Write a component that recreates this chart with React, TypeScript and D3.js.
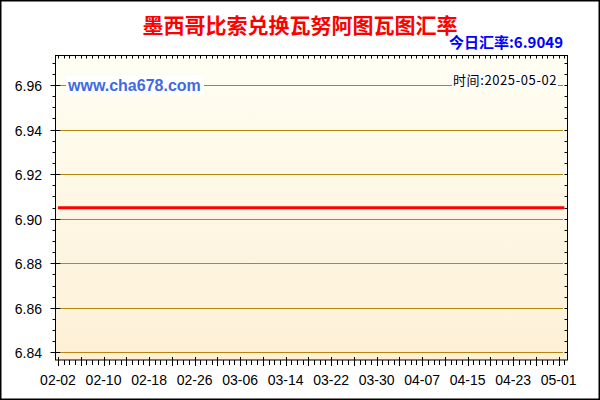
import React from "react";
import * as d3 from "d3";

const dates: string[] = [
  "02-02","02-03","02-04","02-05","02-06","02-07","02-08","02-09","02-10","02-11","02-12","02-13","02-14","02-15",
  "02-16","02-17","02-18","02-19","02-20","02-21","02-22","02-23","02-24","02-25","02-26","02-27","02-28",
  "03-01","03-02","03-03","03-04","03-05","03-06","03-07","03-08","03-09","03-10","03-11","03-12","03-13","03-14",
  "03-15","03-16","03-17","03-18","03-19","03-20","03-21","03-22","03-23","03-24","03-25","03-26","03-27","03-28",
  "03-29","03-30","03-31",
  "04-01","04-02","04-03","04-04","04-05","04-06","04-07","04-08","04-09","04-10","04-11","04-12","04-13","04-14",
  "04-15","04-16","04-17","04-18","04-19","04-20","04-21","04-22","04-23","04-24","04-25","04-26","04-27","04-28",
  "04-29","04-30",
  "05-01","05-02",
];

const rates: number[] = [
  6.9049,6.9049,6.9049,6.9049,6.9049,6.9049,6.9049,6.9049,6.9049,6.9049,6.9049,6.9049,6.9049,6.9049,
  6.9049,6.9049,6.9049,6.9049,6.9049,6.9049,6.9049,6.9049,6.9049,6.9049,6.9049,6.9049,6.9049,
  6.9049,6.9049,6.9049,6.9049,6.9049,6.9049,6.9049,6.9049,6.9049,6.9049,6.9049,6.9049,6.9049,6.9049,
  6.9049,6.9049,6.9049,6.9049,6.9049,6.9049,6.9049,6.9049,6.9049,6.9049,6.9049,6.9049,6.9049,6.9049,
  6.9049,6.9049,6.9049,
  6.9049,6.9049,6.9049,6.9049,6.9049,6.9049,6.9049,6.9049,6.9049,6.9049,6.9049,6.9049,6.9049,6.9049,
  6.9049,6.9049,6.9049,6.9049,6.9049,6.9049,6.9049,6.9049,6.9049,6.9049,6.9049,6.9049,6.9049,6.9049,
  6.9049,6.9049,
  6.9049,6.9049,
];

const xTickLabels: string[] = [
  "02-02","02-10","02-18","02-26","03-06","03-14","03-22","03-30","04-07","04-15","04-23","05-01",
];

const yTickValues: number[] = [6.84, 6.86, 6.88, 6.9, 6.92, 6.94, 6.96];

const titleText = "墨西哥比索兑换瓦努阿图瓦图汇率";
const todayText = "今日汇率:6.9049";
const siteText = "www.cha678.com";
const timeText = "时间:2025-05-02";

export default function App() {
  const W = 600;
  const H = 400;
  const plotL = 55.5;
  const plotR = 567.5;
  const plotT = 55.5;
  const plotB = 360;

  const x = d3.scalePoint<string>().domain(dates).range([58, 564.4]);
  const y = d3.scaleLinear().domain([6.8366, 6.9732]).range([plotB, plotT]);

  const line = d3
    .line<number>()
    .x((_, i) => x(dates[i]) as number)
    .y((d) => y(d));

  const minorY: number[] = [];
  for (let k = 6840; k <= 6970; k += 5) minorY.push(k / 1000);

  const font = "'Liberation Sans', Arial, sans-serif";
  const cjk = "'Noto Sans CJK SC', 'Liberation Sans', sans-serif";

  return (
    <svg
      width={W}
      height={H}
      viewBox={`0 0 ${W} ${H}`}
      style={{ position: "absolute", left: 0, top: 0, display: "block" }}
    >
      <defs>
        <linearGradient id="bg" x1="0" y1="0" x2="0" y2="1">
          <stop offset="0%" stopColor="#fffef3" />
          <stop offset="100%" stopColor="#fdf0d6" />
        </linearGradient>
      </defs>
      <rect x={0} y={0} width={W} height={H} fill="#ffffff" />
      <rect x={0.75} y={0.75} width={W - 1.5} height={H - 1.5} fill="none" stroke="#000" strokeWidth={1.5} />

      {/* plot background */}
      <rect x={plotL} y={plotT} width={plotR - plotL} height={plotB - plotT} fill="url(#bg)" />

      {/* gridlines */}
      {yTickValues.map((v) => (
        <line key={"g" + v} x1={60.5} x2={563} y1={Math.round(y(v)) + 0.5} y2={Math.round(y(v)) + 0.5} stroke="#b8860b" strokeWidth={1} />
      ))}

      {/* data line */}
      <path d={line(rates) || ""} fill="none" stroke="#ff0000" strokeWidth={3} />

      {/* plot frame */}
      <rect x={plotL} y={plotT} width={plotR - plotL} height={plotB - plotT} fill="none" stroke="#000" strokeWidth={1} />

      {/* left minor ticks + right ticks */}
      {minorY.map((v) => {
        const yy = Math.round(y(v)) + 0.5;
        if (yy < plotT || yy > plotB) return null;
        return (
          <g key={"m" + v}>
            <line x1={plotL - 3} x2={plotL} y1={yy} y2={yy} stroke="#000" />
            <line x1={plotR - 3} x2={plotR} y1={yy} y2={yy} stroke="#000" />
          </g>
        );
      })}
      {/* left major ticks and labels */}
      {yTickValues.map((v) => {
        const yy = Math.round(y(v)) + 0.5;
        return (
          <g key={"t" + v}>
            <line x1={plotL - 5} x2={plotL + 5} y1={yy} y2={yy} stroke="#000" />
            <text x={42} y={yy + 5} textAnchor="end" fontFamily={font} fontSize={14} fill="#000">
              {v.toFixed(2)}
            </text>
          </g>
        );
      })}

      {/* top ticks */}
      {dates.map((d) => {
        const xx = Math.round(x(d) as number) + 0.5;
        return <line key={"tt" + d} x1={xx} x2={xx} y1={plotT} y2={plotT + 3} stroke="#000" />;
      })}

      {/* bottom ticks */}
      {dates.map((d, i) => {
        const xx = Math.round(x(d) as number) + 0.5;
        const major = i % 4 === 0;
        return (
          <line key={"bt" + d} x1={xx} x2={xx} y1={major ? plotB - 3 : plotB} y2={major ? plotB + 6 : plotB + 5} stroke="#000" />
        );
      })}

      {/* x labels */}
      {xTickLabels.map((l) => (
        <text key={"xl" + l} x={x(l) as number} y={385} textAnchor="middle" fontFamily={font} fontSize={14} fill="#000">
          {l}
        </text>
      ))}

      {/* title */}
      <text x={300} y={33} textAnchor="middle" fontFamily={cjk} fontWeight="bold" fontSize={21} fill="#ff0000">
        {titleText}
      </text>
      <text x={563} y={48} textAnchor="end" fontFamily={cjk} fontWeight="bold" fontSize={15} fill="#0000ff">
        {todayText}
      </text>

      {/* site watermark */}
      <rect x={66} y={76} width={138} height={20} fill="#ffffff" />
      <text x={68} y={91} fontFamily={font} fontWeight="bold" fontSize={16} fill="#4169e1">
        {siteText}
      </text>

      {/* time */}
      <rect x={452} y={74} width={106} height={13} fill="#ffffff" />
      <text x={453} y={85} fontFamily={cjk} fontSize={13} letterSpacing={0.6} fill="#000">
        {timeText}
      </text>
    </svg>
  );
}
